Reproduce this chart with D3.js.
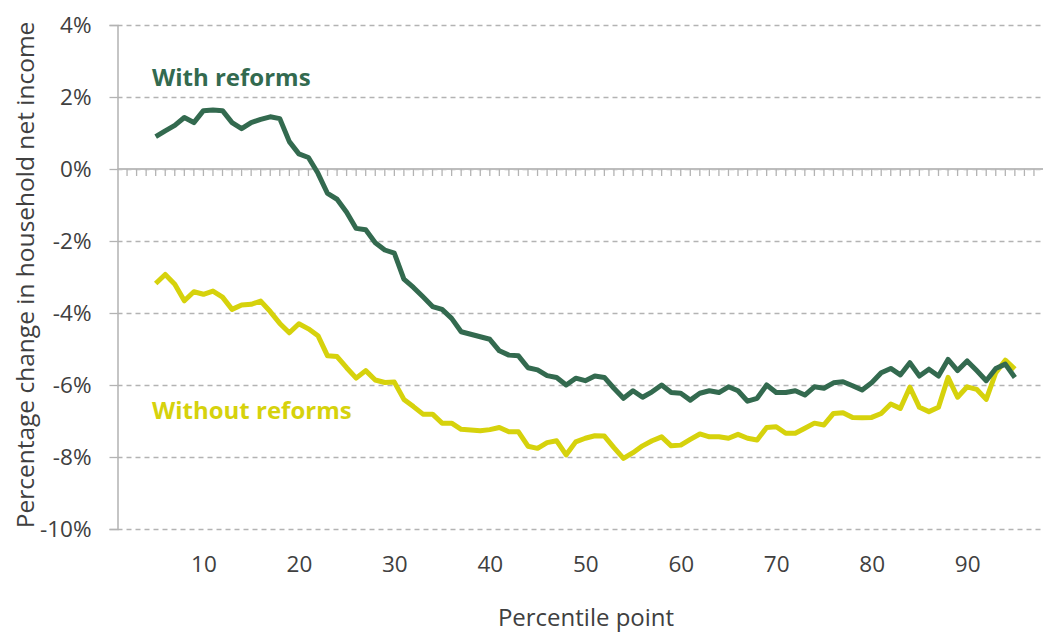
<!DOCTYPE html>
<html>
<head>
<meta charset="utf-8">
<script src="https://cdn.jsdelivr.net/npm/d3@7"></script>
<style>
  body { margin: 0; background: #fff; }
  svg text { font-family: "Open Sans", "Noto Sans", sans-serif; fill: #404040; }
</style>
</head>
<body>
<svg id="chart" width="1043" height="632"></svg>
<script>
// percentile points 5..95
var percentiles = d3.range(5, 96);

// % change, with reforms
var withReforms = [
  0.90, 1.06, 1.21, 1.43, 1.29, 1.62, 1.64, 1.62, 1.29, 1.12,
  1.29, 1.38, 1.45, 1.40, 0.76, 0.42, 0.32, -0.12, -0.68, -0.84,
  -1.20, -1.65, -1.69, -2.05, -2.25, -2.34, -3.06, -3.29, -3.55, -3.82,
  -3.90, -4.15, -4.52, -4.59, -4.66, -4.73, -5.05, -5.17, -5.19, -5.52,
  -5.58, -5.74, -5.79, -6.00, -5.81, -5.88, -5.75, -5.79, -6.09, -6.37,
  -6.16, -6.34, -6.19, -6.00, -6.21, -6.23, -6.42, -6.23, -6.16, -6.21,
  -6.05, -6.16, -6.45, -6.37, -6.00, -6.21, -6.21, -6.16, -6.28, -6.05,
  -6.09, -5.94, -5.91, -6.02, -6.14, -5.94, -5.66, -5.54, -5.72, -5.38,
  -5.75, -5.56, -5.75, -5.29, -5.60, -5.33, -5.60, -5.88, -5.54, -5.42,
  -5.79
];

// % change, without reforms
var withoutReforms = [
  -3.18, -2.93, -3.20, -3.66, -3.41, -3.48, -3.39, -3.56, -3.90, -3.78,
  -3.76, -3.67, -3.96, -4.29, -4.55, -4.30, -4.44, -4.63, -5.19, -5.21,
  -5.52, -5.81, -5.60, -5.86, -5.93, -5.92, -6.40, -6.60, -6.81, -6.81,
  -7.06, -7.06, -7.23, -7.25, -7.27, -7.24, -7.18, -7.30, -7.30, -7.70,
  -7.76, -7.60, -7.55, -7.94, -7.58, -7.48, -7.41, -7.42, -7.74, -8.04,
  -7.88, -7.69, -7.55, -7.44, -7.69, -7.67, -7.51, -7.36, -7.44, -7.44,
  -7.48, -7.37, -7.48, -7.53, -7.18, -7.16, -7.34, -7.34, -7.20, -7.06,
  -7.11, -6.79, -6.77, -6.90, -6.91, -6.90, -6.79, -6.53, -6.65, -6.06,
  -6.62, -6.74, -6.62, -5.79, -6.34, -6.05, -6.12, -6.40, -5.66, -5.31,
  -5.56
];

var yTicks = [-10, -8, -6, -4, -2, 0, 2, 4];
var xTicks = [10, 20, 30, 40, 50, 60, 70, 80, 90];

var green = "#336a4f", yellow = "#d6d20c";

var svg = d3.select("#chart");

var x = d3.scaleLinear().domain([1, 98]).range([117.5, 1043.5]);
var y = d3.scaleLinear().domain([-10, 4]).range([529, 25]);

// dashed gridlines
svg.append("g")
    .attr("transform", "translate(117.5,0)")
    .call(d3.axisLeft(y).tickValues(yTicks).tickSizeInner(-930).tickSizeOuter(0).tickFormat(""))
    .call(g => g.select(".domain").remove())
    .call(g => g.selectAll("line")
      .attr("stroke", "#b3b3b3")
      .attr("stroke-width", 1.3)
      .attr("stroke-dasharray", "5,4"));

// zero line
svg.append("line")
    .attr("x1", x(1)).attr("x2", 1043)
    .attr("y1", y(0)).attr("y2", y(0))
    .attr("stroke", "#bdbdbd").attr("stroke-width", 2);

// small ticks on the zero line
svg.append("g")
  .selectAll("line")
  .data(d3.range(2, 98))
  .join("line")
    .attr("x1", d => x(d)).attr("x2", d => x(d))
    .attr("y1", y(0)).attr("y2", y(0) + 7)
    .attr("stroke", "#b3b3b3").attr("stroke-width", 1.3);

// y axis
svg.append("g")
    .attr("transform", "translate(117.5,0)")
    .call(d3.axisLeft(y).tickValues(yTicks).tickSize(8).tickPadding(18).tickFormat(d => d + "%"))
    .call(g => g.select(".domain").attr("stroke", "#b3b3b3").attr("stroke-width", 1.5))
    .call(g => g.selectAll("line").attr("stroke", "#b3b3b3").attr("stroke-width", 1.3))
    .call(g => g.selectAll("text")
      .attr("font-size", 22.5)
      .attr("font-family", "Open Sans")
      .attr("fill", "#404040"));

// x axis labels
svg.append("g")
    .attr("transform", "translate(0,529)")
    .call(d3.axisBottom(x).tickValues(xTicks).tickSize(0).tickPadding(27))
    .call(g => g.select(".domain").remove())
    .call(g => g.selectAll("text")
      .attr("font-size", 22.5)
      .attr("font-family", "Open Sans")
      .attr("fill", "#404040"));

// axis titles
svg.append("text")
    .attr("transform", "translate(34,275) rotate(-90)")
    .attr("text-anchor", "middle")
    .attr("font-size", 24.5)
    .text("Percentage change in household net income");

svg.append("text")
    .attr("x", 586)
    .attr("y", 626)
    .attr("text-anchor", "middle")
    .attr("font-size", 24)
    .text("Percentile point");

var line = d3.line()
    .x((d, i) => x(percentiles[i]))
    .y(d => y(d));

svg.append("path")
    .datum(withoutReforms)
    .attr("fill", "none")
    .attr("stroke", yellow)
    .attr("stroke-width", 5)
    .attr("stroke-linejoin", "round")
    .attr("d", line);

svg.append("path")
    .datum(withReforms)
    .attr("fill", "none")
    .attr("stroke", green)
    .attr("stroke-width", 5)
    .attr("stroke-linejoin", "round")
    .attr("d", line);

// series labels
svg.append("text")
    .attr("x", 152).attr("y", 86)
    .attr("font-size", 24).attr("font-weight", "bold")
    .style("fill", green)
    .text("With reforms");

svg.append("text")
    .attr("x", 152).attr("y", 419)
    .attr("font-size", 24).attr("font-weight", "bold")
    .style("fill", yellow)
    .text("Without reforms");
</script>
</body>
</html>
